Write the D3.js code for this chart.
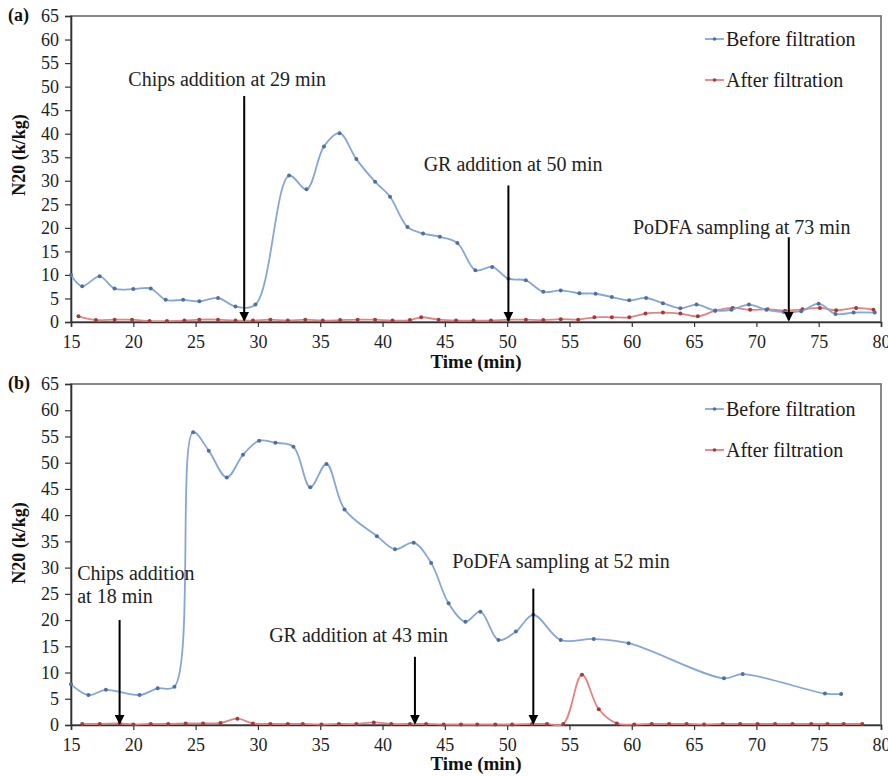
<!DOCTYPE html>
<html>
<head>
<meta charset="utf-8">
<script src="https://cdn.jsdelivr.net/npm/d3@7"></script>
<style>
  body { margin: 0; background: #fff; }
  svg, svg text { font-family: "Liberation Serif", "DejaVu Serif", "Noto Serif", serif; }
</style>
</head>
<body>
<script>
// ---- data ----
const xTicks = [15, 20, 25, 30, 35, 40, 45, 50, 55, 60, 65, 70, 75, 80];
const yTicks = [0, 5, 10, 15, 20, 25, 30, 35, 40, 45, 50, 55, 60, 65];
const seriesNames = ["Before filtration", "After filtration"];

// panel (a)
const timeBeforeA = [15, 15.9, 17.3, 18.5, 20.0, 21.4, 22.6, 24.0, 25.3, 26.8, 28.2, 29.8, 32.5, 33.9, 35.3, 36.55, 37.9, 39.4, 40.6, 42.0, 43.25, 44.6, 46.0, 47.45, 48.8, 50.1, 51.5, 52.9, 54.3, 55.8, 57.1, 58.4, 59.8, 61.15, 62.5, 63.9, 65.2, 66.7, 68.0, 69.4, 70.8, 72.2, 73.6, 75.0, 76.35, 77.8, 79.5];
const valBeforeA = [10.0, 7.6, 9.7, 7.1, 7.0, 7.1, 4.7, 4.7, 4.4, 5.1, 3.3, 3.7, 31.1, 28.2, 37.3, 40.1, 34.6, 29.8, 26.6, 20.2, 18.8, 18.1, 16.8, 11.0, 11.7, 9.2, 8.85, 6.4, 6.7, 6.1, 6.0, 5.3, 4.6, 5.1, 4.0, 2.9, 3.7, 2.45, 2.6, 3.7, 2.6, 2.1, 2.3, 3.9, 1.7, 2.0, 2.0];
const timeAfterA = [15.6, 17.0, 18.5, 19.9, 21.3, 22.7, 24.1, 25.3, 26.8, 28.2, 29.6, 31.0, 32.4, 33.8, 35.2, 36.6, 38.0, 39.4, 40.8, 42.2, 43.1, 44.5, 45.9, 47.3, 48.7, 50.1, 51.5, 52.9, 54.3, 55.7, 57.0, 58.4, 59.8, 61.1, 62.5, 63.9, 65.3, 66.7, 68.1, 69.5, 70.9, 72.3, 73.7, 75.1, 76.4, 78.0, 79.4];
const valAfterA = [1.2, 0.4, 0.5, 0.5, 0.2, 0.2, 0.3, 0.5, 0.5, 0.3, 0.3, 0.5, 0.3, 0.5, 0.3, 0.4, 0.5, 0.5, 0.3, 0.4, 1.0, 0.5, 0.3, 0.3, 0.3, 0.5, 0.5, 0.4, 0.6, 0.5, 1.0, 1.0, 1.0, 1.8, 2.0, 1.8, 1.2, 2.4, 3.0, 2.6, 2.7, 2.4, 2.7, 3.0, 2.5, 3.0, 2.6];
const eventLabelsA = ["Chips addition at 29 min", "GR addition at 50 min", "PoDFA sampling at 73 min"];
const eventTimesA = [28.9, 50.1, 72.6];
const eventTopsA = [48, 29, 18];

// panel (b)
const timeBeforeB = [15.0, 16.4, 17.8, 20.5, 21.95, 23.3, 24.8, 26.05, 27.5, 28.8, 30.1, 31.4, 32.85, 34.2, 35.5, 36.95, 39.55, 41.0, 42.5, 43.9, 45.3, 46.65, 47.85, 49.3, 50.7, 52.1, 54.3, 56.95, 59.75, 67.4, 68.9, 75.5, 76.8];
const valBeforeB = [7.75, 5.7, 6.7, 5.7, 7.0, 7.3, 55.8, 52.3, 47.2, 51.5, 54.2, 53.8, 53.05, 45.3, 49.75, 41.1, 36.0, 33.5, 34.75, 30.9, 23.2, 19.7, 21.6, 16.2, 17.8, 21.0, 16.2, 16.4, 15.6, 8.9, 9.7, 6.0, 5.9];
const timeAfterB = [15.9, 17.3, 18.9, 20.0, 21.4, 22.8, 24.2, 25.6, 27.0, 28.35, 29.6, 31.0, 32.4, 33.6, 35.1, 36.5, 37.9, 39.3, 40.7, 42.2, 43.5, 44.9, 46.3, 47.6, 49.05, 50.4, 52.0, 53.2, 54.5, 56.0, 57.35, 58.8, 60.2, 61.6, 63.0, 64.4, 65.8, 67.3, 68.7, 70.1, 71.5, 72.9, 74.4, 75.7, 77.0, 78.5];
const valAfterB = [0.2, 0.2, 0.3, 0.1, 0.2, 0.2, 0.3, 0.3, 0.4, 1.2, 0.3, 0.2, 0.2, 0.2, 0.1, 0.2, 0.2, 0.5, 0.2, 0.2, 0.2, 0.1, 0.1, 0.1, 0.1, 0.1, 0.2, 0.2, 0.2, 9.6, 3.0, 0.3, 0.1, 0.2, 0.2, 0.2, 0.1, 0.2, 0.2, 0.2, 0.2, 0.2, 0.2, 0.2, 0.2, 0.2];
const eventLabelsB = [["Chips addition", "at 18 min"], ["GR addition at 43 min"], ["PoDFA sampling at 52 min"]];
const eventTimesB = [18.9, 42.6, 52.1];
const eventTopsB = [20, 13, 26];

// ---- layout ----
const W = 888, H = 776;
const plotLeft = 71, plotRight = 881;
const FONT = '"Liberation Serif", "DejaVu Serif", "Noto Serif", serif';
const colBefore = "#86a6d6", dotBefore = "#4f6fa3";
const colAfter = "#e38484", dotAfter = "#a23a3a";

const svg = d3.select("body").append("svg").attr("width", W).attr("height", H)
    .attr("font-family", FONT);

svg.append("defs").append("marker")
    .attr("id", "head")
    .attr("viewBox", "0 0 6 6")
    .attr("refX", 5).attr("refY", 3)
    .attr("markerWidth", 5).attr("markerHeight", 5)
    .attr("orient", "auto")
    .append("path").attr("d", "M0,0L6,3L0,6Z").attr("fill", "#000");

function drawPanel(p) {
    const x = d3.scaleLinear().domain([15, 80]).range([plotLeft, plotRight]);
    const y = d3.scaleLinear().domain([0, 65]).range([p.bottom, p.top]);
    const g = svg.append("g");

    // frame
    g.append("rect")
        .attr("x", plotLeft).attr("y", p.top)
        .attr("width", plotRight - plotLeft).attr("height", p.bottom - p.top)
        .attr("fill", "none").attr("stroke", "#6b6b6b").attr("stroke-width", 1.6);

    // axes
    const yAxis = g.append("g").attr("transform", "translate(" + plotLeft + ",0)")
        .call(d3.axisLeft(y).tickValues(yTicks).tickSize(6).tickPadding(6));
    const xAxis = g.append("g").attr("transform", "translate(0," + p.bottom + ")")
        .call(d3.axisBottom(x).tickValues(xTicks).tickSize(5).tickPadding(8));
    [xAxis, yAxis].forEach(a => {
        a.attr("font-family", FONT);
        a.selectAll("path").attr("stroke", "#333").attr("stroke-width", 1.6);
        a.selectAll("line").attr("stroke", "#333").attr("stroke-width", 1.2);
        a.selectAll("text").attr("font-size", 18).attr("fill", "#222");
    });

    // series
    const line = d3.line().x(d => x(d[0])).y(d => y(d[1])).curve(d3.curveCatmullRom.alpha(0.5));
    const series = [
        {pts: d3.zip(p.tAfter, p.vAfter), col: colAfter, dot: dotAfter},
        {pts: d3.zip(p.tBefore, p.vBefore), col: colBefore, dot: dotBefore}
    ];
    series.forEach(s => {
        g.append("path").datum(s.pts).attr("d", line)
            .attr("fill", "none").attr("stroke", s.col).attr("stroke-width", 1.8);
        g.selectAll(null).data(s.pts).join("circle")
            .attr("cx", d => x(d[0])).attr("cy", d => y(d[1])).attr("r", 2)
            .attr("fill", s.dot);
    });

    // event arrows
    p.times.forEach((t, i) => {
        g.append("line")
            .attr("x1", x(t)).attr("x2", x(t))
            .attr("y1", y(p.tops[i])).attr("y2", y(0) - 2)
            .attr("stroke", "#000").attr("stroke-width", 2)
            .attr("marker-end", "url(#head)");
        const lab = g.append("text").attr("font-size", 20).attr("fill", "#222")
            .attr("x", x(p.labelPos[i][0])).attr("y", y(p.labelPos[i][1]));
        [].concat(p.labels[i]).forEach((s, k) => {
            lab.append("tspan").attr("x", x(p.labelPos[i][0])).attr("dy", k === 0 ? 0 : 23).text(s);
        });
    });

    // legend
    const leg = g.append("g");
    [colBefore, colAfter].forEach((c, i) => {
        const ly = p.legendY[i];
        leg.append("line").attr("x1", 705).attr("x2", 724).attr("y1", ly).attr("y2", ly)
            .attr("stroke", c).attr("stroke-width", 1.8);
        leg.append("circle").attr("cx", 714.5).attr("cy", ly).attr("r", 1.8)
            .attr("fill", i === 0 ? dotBefore : dotAfter);
        leg.append("text").attr("x", 726).attr("y", ly + 7)
            .attr("font-size", 20).attr("fill", "#1a1a1a").text(seriesNames[i]);
    });

    // titles
    g.append("text").attr("x", (plotLeft + plotRight) / 2).attr("y", p.bottom + p.xTitleGap)
        .attr("text-anchor", "middle").attr("font-size", 19).attr("font-weight", "bold")
        .attr("fill", "#111").text("Time (min)");
    g.append("text")
        .attr("transform", "translate(25," + p.yTitleMid + ") rotate(-90)")
        .attr("text-anchor", "middle").attr("font-size", 18).attr("font-weight", "bold")
        .attr("fill", "#111").text("N20 (k/kg)");
    g.append("text").attr("x", 8).attr("y", p.top + 5)
        .attr("font-size", 18).attr("font-weight", "bold").attr("fill", "#111").text(p.tag);
}

drawPanel({
    tag: "(a)", top: 16, bottom: 322, xTitleGap: 46, yTitleMid: 155,
    tBefore: timeBeforeA, vBefore: valBeforeA, tAfter: timeAfterA, vAfter: valAfterA,
    labels: eventLabelsA, times: eventTimesA, tops: eventTopsA,
    labelPos: [[19.6, 50.2], [43.3, 32.1], [60.1, 18.7]],
    legendY: [39, 80]
});
drawPanel({
    tag: "(b)", top: 384, bottom: 725, xTitleGap: 45, yTitleMid: 543,
    tBefore: timeBeforeB, vBefore: valBeforeB, tAfter: timeAfterB, vAfter: valAfterB,
    labels: eventLabelsB, times: eventTimesB, tops: eventTopsB,
    labelPos: [[15.5, 27.6], [30.9, 15.8], [45.6, 29.9]],
    legendY: [409, 450]
});
</script>
</body>
</html>
